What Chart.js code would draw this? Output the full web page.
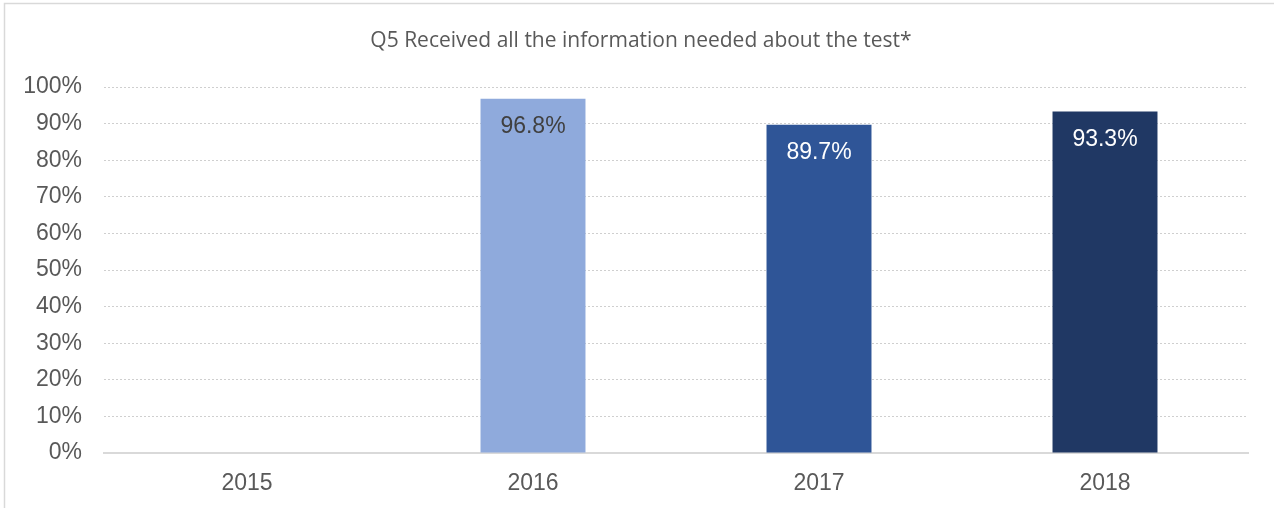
<!DOCTYPE html>
<html>
<head>
<meta charset="utf-8">
<script src="https://cdn.jsdelivr.net/npm/chart.js@4/dist/chart.umd.min.js"></script>
<style>
  html, body { margin: 0; padding: 0; background: #fff; }
  #wrap { width: 1274px; height: 508px; }
</style>
</head>
<body>
<div id="wrap"><canvas id="chart" width="1274" height="508"></canvas></div>
<script>
    'use strict';

    // data
    var years = ['2015', '2016', '2017', '2018'];
    var received = [null, 96.8, 89.7, 93.3];
    var chartTitle = 'Q5 Received all the information needed about the test*';

    var barColors = ['#8faadc', '#8faadc', '#2f5597', '#203864'];
    var labelColors = ['#404040', '#404040', '#ffffff', '#ffffff'];
    var axisFont = '"Liberation Sans", Arial, sans-serif';

    // grey frame (only left and top show) and the title, centred on the frame
    var framePlugin = {
        id: 'frame',
        beforeDraw: function (chart) {
            var ctx = chart.ctx;
            ctx.save();
            ctx.fillStyle = '#ffffff';
            ctx.fillRect(0, 0, chart.width, chart.height);
            ctx.strokeStyle = '#d9d9d9';
            ctx.lineWidth = 1.5;
            ctx.strokeRect(4.5, 3.5, 1300, 600);
            ctx.fillStyle = '#595959';
            ctx.font = '21px "Open Sans", sans-serif';
            ctx.textAlign = 'center';
            ctx.textBaseline = 'middle';
            ctx.fillText(chartTitle, 641, 41);
            ctx.restore();
        }
    };

    // value labels inside the top of each bar
    var valueLabels = {
        id: 'valueLabels',
        afterDatasetsDraw: function (chart) {
            var ctx = chart.ctx;
            var meta = chart.getDatasetMeta(0);
            ctx.save();
            ctx.font = '23px ' + axisFont;
            ctx.textAlign = 'center';
            ctx.textBaseline = 'middle';
            meta.data.forEach(function (bar, i) {
                var v = received[i];
                if (v === null) return;
                ctx.fillStyle = labelColors[i];
                ctx.fillText(v.toFixed(1) + '%', bar.x, bar.y + 28);
            });
            ctx.restore();
        }
    };

    var ctx = document.getElementById('chart').getContext('2d');
    new Chart(ctx, {
        type: 'bar',
        data: {
            labels: years,
            datasets: [{
                label: 'Received',
                data: received,
                backgroundColor: barColors,
                categoryPercentage: 1,
                barPercentage: 0.367
            }]
        },
        options: {
            responsive: false,
            animation: false,
            layout: { padding: { top: 87, right: 26, bottom: 0, left: 0 } },
            plugins: {
                legend: { display: false },
                tooltip: { enabled: false },
                title: { display: false }
            },
            scales: {
                x: {
                    afterFit: function (scale) { scale.height = 55; },
                    grid: { display: false, drawTicks: false },
                    border: { color: '#d9d9d9', width: 2 },
                    ticks: {
                        color: '#595959',
                        padding: 17,
                        font: { family: axisFont, size: 23 }
                    }
                },
                y: {
                    min: 0,
                    max: 100,
                    afterFit: function (scale) { scale.width = 104; },
                    grid: { color: '#cfcfcf', lineWidth: 1, drawTicks: false },
                    border: { display: false, dash: [2, 2] },
                    ticks: {
                        stepSize: 10,
                        color: '#595959',
                        padding: 22,
                        font: { family: axisFont, size: 23 },
                        callback: function (v) { return v + '%'; }
                    }
                }
            }
        },
        plugins: [framePlugin, valueLabels]
    });
</script>
</body>
</html>
